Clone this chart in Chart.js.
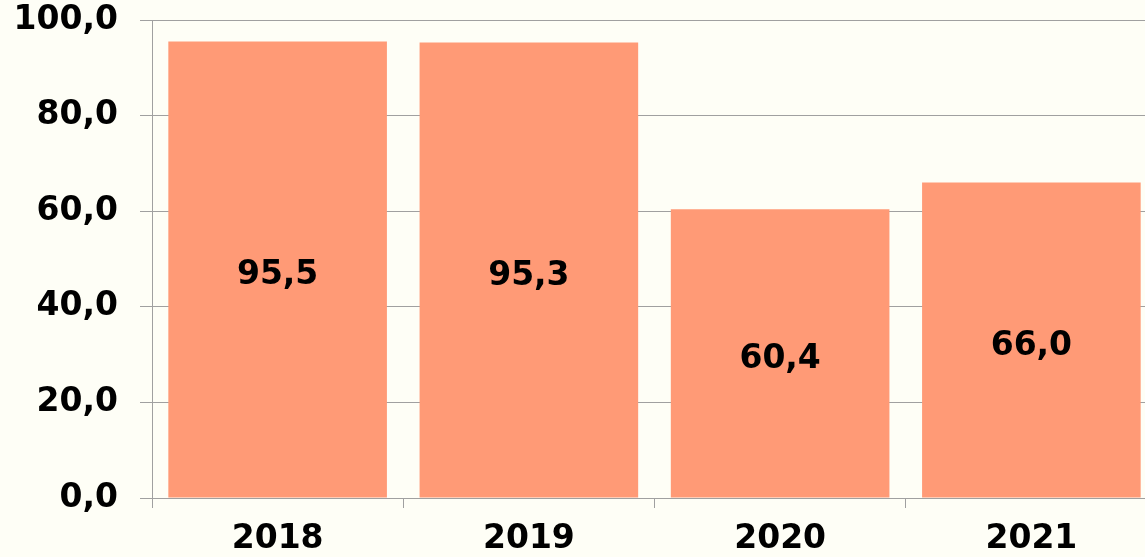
<!DOCTYPE html>
<html>
<head>
<meta charset="utf-8">
<script src="https://cdn.jsdelivr.net/npm/chart.js@4/dist/chart.umd.min.js"></script>
<style>
html,body{margin:0;padding:0;background:#FEFEF6;overflow:hidden;}
#wrap{width:1145px;height:557px;overflow:hidden;}
canvas{display:block;}
</style>
</head>
<body>
<div id="wrap"><canvas id="c" width="1160" height="557"></canvas></div>
<script>
const categories = ['2018', '2019', '2020', '2021'];
const values = [95.5, 95.3, 60.4, 66.0];
const yTicks = [0, 20, 40, 60, 80, 100];

const fmt = v => Number(v).toFixed(1).replace('.', ',');
const FONT = '"DejaVu Sans", Verdana, sans-serif';

const labelPlugin = {
  id: 'barLabels',
  afterDatasetsDraw(chart) {
    const ctx = chart.ctx;
    const meta = chart.getDatasetMeta(0);
    ctx.save();
    ctx.font = 'bold 33px ' + FONT;
    ctx.fillStyle = '#000';
    ctx.textAlign = 'center';
    ctx.textBaseline = 'middle';
    meta.data.forEach((bar, i) => {
      const p = bar.getProps(['x', 'y', 'base'], true);
      ctx.fillText(fmt(values[i]), p.x, (p.y + p.base) / 2 + 6);
    });
    ctx.restore();
  }
};

new Chart(document.getElementById('c'), {
  type: 'bar',
  data: {
    labels: categories,
    datasets: [{
      data: values,
      backgroundColor: '#FF9A76',
      borderWidth: 0,
      categoryPercentage: 0.87,
      barPercentage: 1.0
    }]
  },
  options: {
    responsive: false,
    animation: false,
    events: [],
    layout: { padding: { top: 0, left: 0, right: 3, bottom: 0 } },
    plugins: { legend: { display: false }, tooltip: { enabled: false } },
    scales: {
      x: {
        offset: true,
        grid: { display: true, offset: true, drawOnChartArea: false, drawTicks: true, tickLength: 10, color: '#A0A0A0' },
        border: { display: true, color: '#A0A0A0' },
        ticks: { color: '#000', font: { family: FONT, size: 33, weight: 'bold' }, padding: 12, maxRotation: 0 },
        afterFit: s => { s.height = 59; s.paddingLeft = 0; s.paddingRight = 0; }
      },
      y: {
        min: 0, max: 100,
        afterBuildTicks: s => { s.ticks = yTicks.map(v => ({ value: v })); },
        grid: { color: '#A0A0A0', tickLength: 12 },
        border: { display: true, color: '#A0A0A0' },
        ticks: { color: '#000', font: { family: FONT, size: 33, weight: 'bold' }, padding: 22, callback: v => fmt(v) },
        afterFit: s => { s.width = 152; s.paddingTop = 20; s.paddingBottom = 0; }
      }
    }
  },
  plugins: [labelPlugin]
});
</script>
</body>
</html>
